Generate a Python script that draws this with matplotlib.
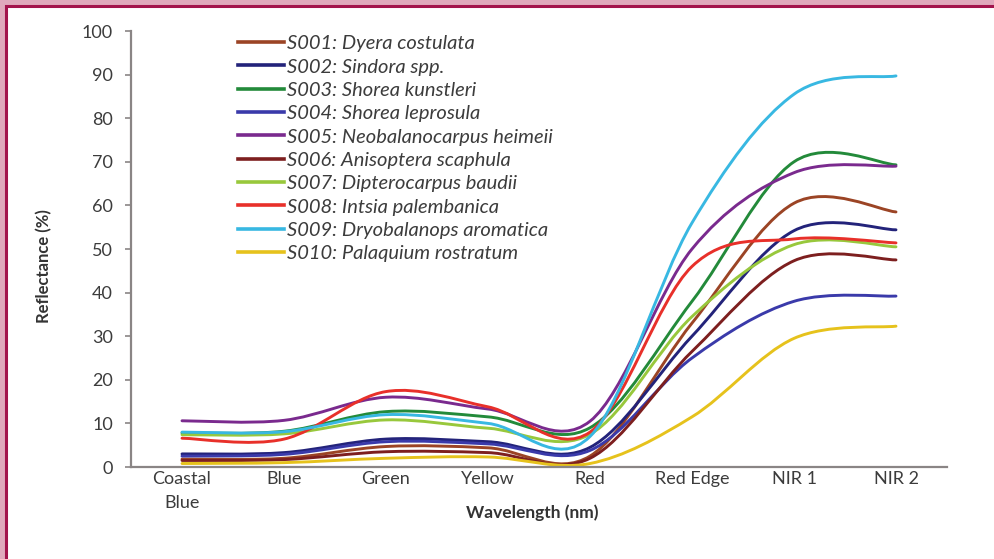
import matplotlib
matplotlib.use('Agg')
import matplotlib.pyplot as plt
from matplotlib.path import Path
from matplotlib.patches import PathPatch, Rectangle
from matplotlib.lines import Line2D

plt.rcParams['font.family'] = ['Lato', 'DejaVu Sans']

bands = ['Coastal\nBlue', 'Blue', 'Green', 'Yellow', 'Red', 'Red Edge', 'NIR 1', 'NIR 2']

species = [
    'S001: Dyera costulata',
    'S002: Sindora spp.',
    'S003: Shorea kunstleri',
    'S004: Shorea leprosula',
    'S005: Neobalanocarpus heimeii',
    'S006: Anisoptera scaphula',
    'S007: Dipterocarpus baudii',
    'S008: Intsia palembanica',
    'S009: Dryobalanops aromatica',
    'S010: Palaquium rostratum',
]

# reflectance (%) per band
s001 = [1.8, 2.0, 4.7, 4.4, 2.5, 33.0, 60.5, 58.5]
s002 = [3.0, 3.3, 6.4, 5.8, 4.5, 30.0, 54.2, 54.4]
s003 = [7.8, 8.2, 12.7, 11.5, 9.0, 38.0, 70.0, 69.3]
s004 = [2.5, 2.9, 5.8, 5.3, 3.8, 25.0, 38.0, 39.2]
s005 = [10.6, 10.7, 16.0, 13.3, 10.5, 50.0, 67.5, 69.0]
s006 = [1.5, 1.7, 3.5, 3.3, 2.0, 26.5, 47.3, 47.5]
s007 = [7.4, 7.6, 10.8, 8.9, 7.5, 34.5, 51.0, 50.5]
s008 = [6.6, 6.4, 17.3, 13.8, 8.0, 46.0, 52.3, 51.4]
s009 = [8.0, 8.1, 12.0, 10.0, 7.0, 56.0, 85.5, 89.7]
s010 = [0.8, 1.0, 2.0, 2.3, 0.8, 11.5, 29.5, 32.3]

series = [s001, s002, s003, s004, s005, s006, s007, s008, s009, s010]
colors = ['#9b4425', '#23237a', '#238a3a', '#3a3aaa', '#7a2a8e',
          '#7d1f1f', '#98c83c', '#e8302a', '#38b8e2', '#e6c21c']


def smooth_path(xs, ys):
    # cardinal spline through the points, written as cubic bezier segments
    pts = list(zip(xs, ys))
    n = len(pts)
    verts = [pts[0]]
    codes = [Path.MOVETO]
    for i in range(n - 1):
        p0 = pts[max(i - 1, 0)]
        p1 = pts[i]
        p2 = pts[i + 1]
        p3 = pts[min(i + 2, n - 1)]
        c1 = (p1[0] + (p2[0] - p0[0]) / 6.0, p1[1] + (p2[1] - p0[1]) / 6.0)
        c2 = (p2[0] - (p3[0] - p1[0]) / 6.0, p2[1] - (p3[1] - p1[1]) / 6.0)
        verts += [c1, c2, p2]
        codes += [Path.CURVE4] * 3
    return Path(verts, codes)


W, H = 995, 559
fig = plt.figure(figsize=(W / 100, H / 100), dpi=100)
fig.patch.set_facecolor('#e0a9bc')

panel = Rectangle((6 / W, -0.1), 1.2, 1.1 - 6 / H, transform=fig.transFigure,
                  facecolor='white', edgecolor='#a3144c', linewidth=2.2, zorder=0)
fig.add_artist(panel)

ax = fig.add_axes([131 / W, 92 / H, 816 / W, 436 / H])
ax.set_facecolor('none')

xs = list(range(len(bands)))
for vals, col in zip(series, colors):
    ax.add_patch(PathPatch(smooth_path(xs, vals), facecolor='none',
                           edgecolor=col, linewidth=2.1, capstyle='round'))

ax.set_xlim(-0.5, len(bands) - 0.5)
ax.set_ylim(0, 100)
ax.set_yticks(range(0, 101, 10))
ax.set_xticks(xs)
ax.set_xticklabels(bands)

for side in ['top', 'right']:
    ax.spines[side].set_visible(False)
for side in ['left', 'bottom']:
    ax.spines[side].set_color('#8a8585')
    ax.spines[side].set_linewidth(1.6)

ax.tick_params(axis='y', length=4, width=1.2, color='#8a8585', pad=9,
               labelsize=13, labelcolor='#3c3c3c')
ax.tick_params(axis='x', length=0, pad=3, labelsize=13, labelcolor='#3c3c3c')
for t in ax.get_xticklabels():
    t.set_linespacing(1.6)

ax.set_ylabel('Reflectance (%)', fontsize=12, fontweight='bold', color='#333333')
ax.yaxis.set_label_coords(-0.097, 0.46)
ax.set_xlabel('Wavelength (nm)', fontsize=12.5, fontweight='bold', color='#333333')
ax.xaxis.set_label_coords(0.492, -0.087)

handles = [Line2D([], [], color=c, linewidth=2.6) for c in colors]
leg = ax.legend(handles, species, loc='upper left',
                bbox_to_anchor=(228 / W, 1 - 25 / H), bbox_transform=fig.transFigure,
                frameon=False, borderpad=0, handlelength=2.3, handletextpad=0.15,
                labelspacing=0.31, prop={'style': 'italic', 'size': 14.5})
for t in leg.get_texts():
    t.set_color('#3c3c3c')

fig.savefig('out.png', dpi=100, facecolor=fig.get_facecolor())
